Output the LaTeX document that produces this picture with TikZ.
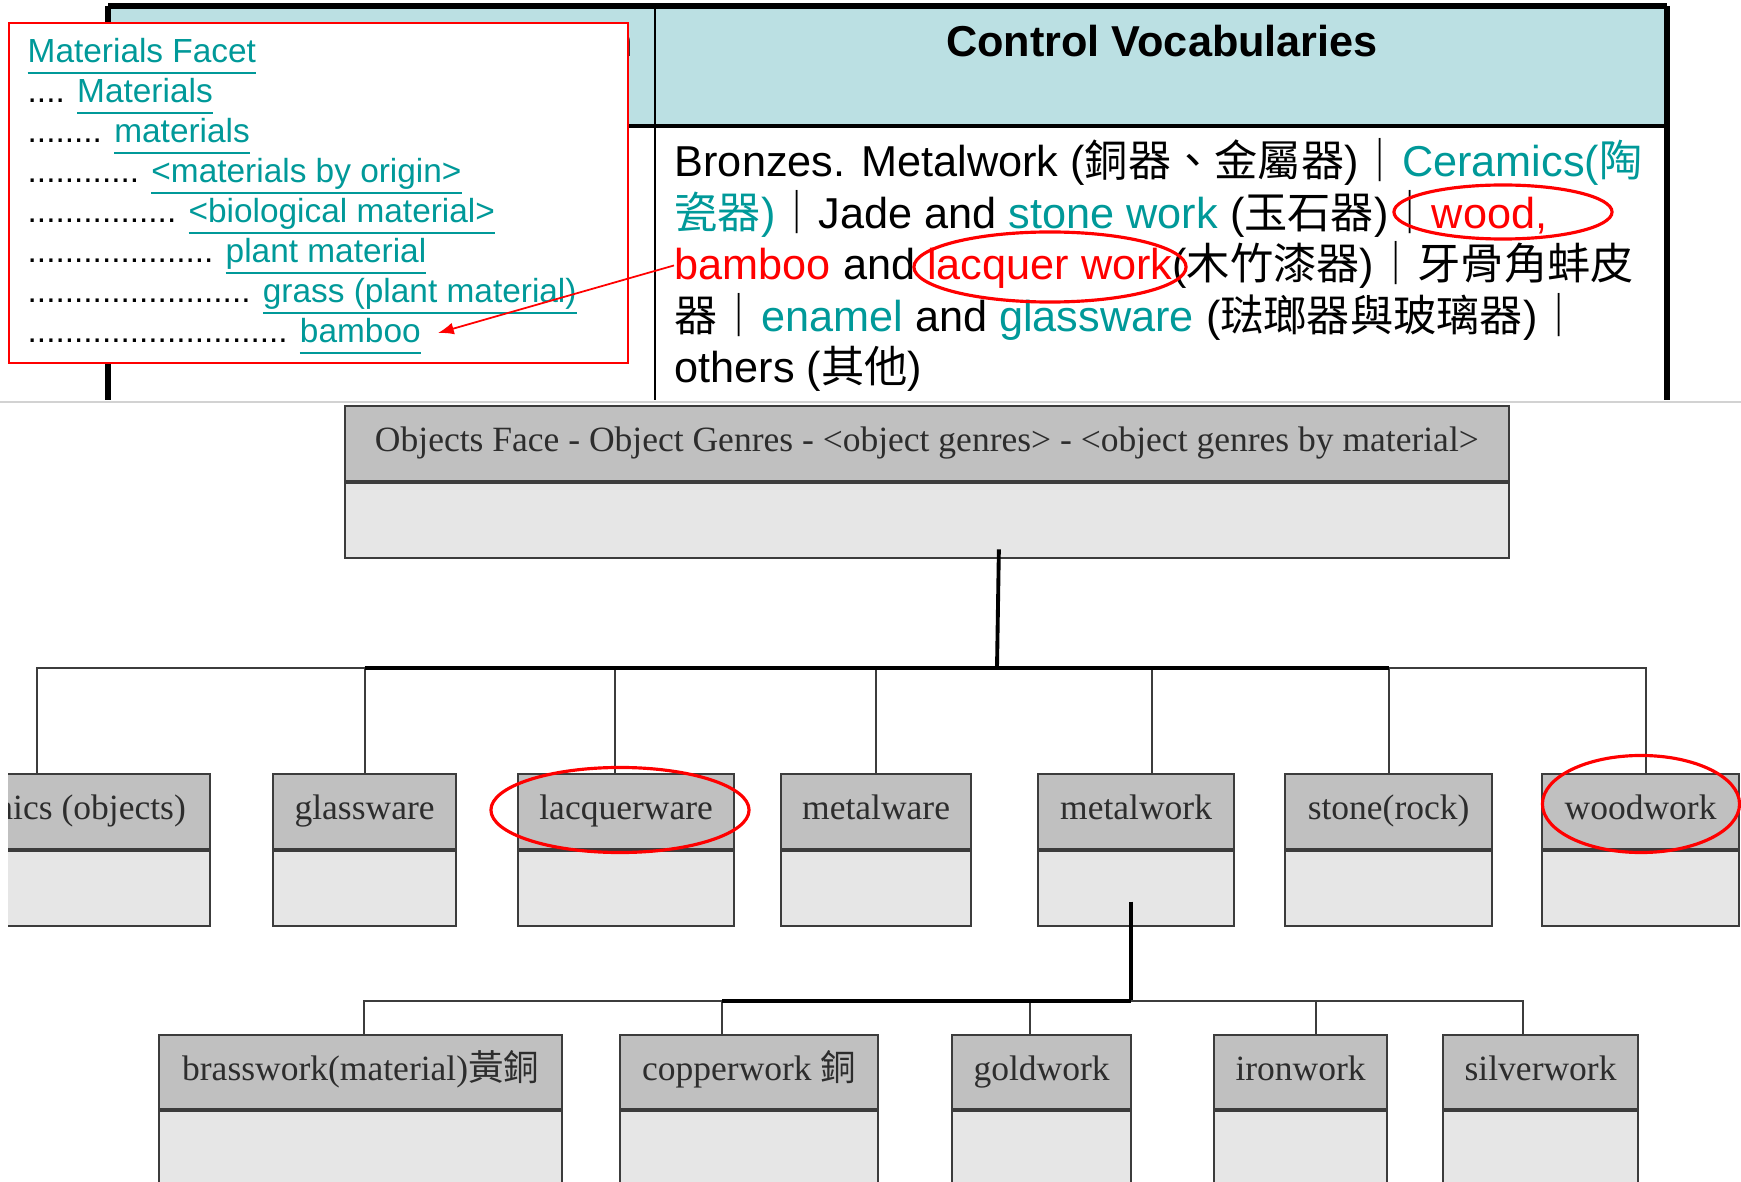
\documentclass[tikz,border=0pt]{standalone}
\usepackage{fontspec}
\setmainfont{Liberation Sans}
\newfontfamily\tnr{Liberation Serif}
\newfontfamily\cjk{Noto Sans CJK TC}
\usetikzlibrary{arrows.meta,shapes.geometric,positioning,calc}
\definecolor{linkteal}{RGB}{0,153,153}
\definecolor{headcyan}{RGB}{187,224,227}
\definecolor{boxgray}{RGB}{192,192,192}
\definecolor{bodygray}{RGB}{230,230,230}
\definecolor{edgegray}{RGB}{60,60,60}
\definecolor{inkgray}{RGB}{45,45,45}
\newcommand{\zh}[1]{{\cjk #1}}
\newcommand{\vsep}{\zh{｜}}
\newcommand{\tealtxt}[1]{\textcolor{linkteal}{#1}}
\newcommand{\redtxt}[1]{\textcolor{red}{#1}}
\newcommand{\lnk}[1]{\textcolor{linkteal}{\underline{\raisebox{0pt}[\height][1.4pt]{#1}}}}
\newcommand{\genre}[5]{%
\node[genhead,minimum width=#4,anchor=north west] (#1) at (#2,#3) {#5};
\node[genbody,minimum width=#4,anchor=north] (#1b) at (#1.south) {};
\draw[edgegray,line width=1.2pt] (#1.south west) -- (#1.south east);}

\begin{document}
\begin{tikzpicture}
[x=0.01cm,y=-0.01cm,
tabline/.style={black,line width=1.5pt},
tabtxt/.style={anchor=base west,inner sep=0pt,font=\fontsize{12.3}{14}\selectfont},
listtxt/.style={anchor=base west,inner sep=0pt,font=\fontsize{9.5}{11}\selectfont},
ring/.style={draw=red,line width=0.9pt,ellipse,inner sep=0pt},
redarrow/.style={red,line width=0.5pt,-{Latex[length=4.5pt,width=3.4pt]}},
genhead/.style={draw=edgegray,fill=boxgray,line width=0.6pt,minimum height=0.75cm,inner sep=0pt,text height=6.9pt,text depth=2.2pt,text=inkgray,font=\tnr\fontsize{10.1}{12}\selectfont},
genbody/.style={draw=edgegray,fill=bodygray,line width=0.6pt,minimum height=0.75cm,inner sep=0pt},
bus/.style={edgegray,line width=0.6pt},
trunk/.style={black,line width=1.1pt}]
\useasboundingbox (0,0) rectangle (1741,1182);
\clip (0,0) rectangle (1741,1182);
%%
%%%%%%%%%%%%%%%%%%
% Table
%%%%%%%%%%%%%%%%%%
\fill[headcyan] (108,6) rectangle (1667,126);
\draw[tabline] (108,6) -- (1667,6);
\draw[tabline] (108,6) -- (108,400);
\draw[black,line width=1.7pt] (1667,6) -- (1667,400);
\draw[black,line width=0.9pt] (108,126) -- (1667,126);
\draw[black,line width=0.8pt] (655,6) -- (655,400);
\draw[gray!35,line width=0.6pt] (0,402) -- (1741,402);
\node[anchor=base east,inner sep=0pt,font=\bfseries\fontsize{12.3}{14}\selectfont] (lefthead) at (634,57) {n};
\node[anchor=base,inner sep=0pt,font=\bfseries\fontsize{12.3}{14}\selectfont] (cvhead) at (1162,57) {Control Vocabularies};
%% body text
\node[tabtxt] (tbody1) at (674,177) {Bronzes. Metalwork (\zh{銅器、金屬器})\vsep\tealtxt{Ceramics(\zh{陶}}};
\node[tabtxt] (tbody2) at (674,229) {\tealtxt{\zh{瓷器})}\vsep Jade and \tealtxt{stone work} (\zh{玉石器})\vsep\redtxt{wood,}};
\node[tabtxt] (tbody3) at (674,280) {\redtxt{bamboo} and \redtxt{lacquer work}(\zh{木竹漆器})\vsep\zh{牙骨角蚌皮}};
\node[tabtxt] (tbody4) at (674,332) {\zh{器}\vsep\tealtxt{enamel} and \tealtxt{glassware} (\zh{琺瑯器與玻璃器})\vsep};
\node[tabtxt] (tbody5) at (674,383) {others (\zh{其他})};
\node[ring,minimum width=2.18cm,minimum height=0.54cm] (ringwoodtxt) at (1503,212) {};
\node[ring,minimum width=2.72cm,minimum height=0.70cm] (ringlacqtxt) at (1050,267) {};
%%
%%%%%%%%%%%%%%%%%%
% Materials facet list
%%%%%%%%%%%%%%%%%%
\node[draw=red,fill=white,line width=0.6pt,minimum width=6.19cm,minimum height=3.40cm,anchor=north west,inner sep=0pt] (listbox) at (8,22) {};
\node[listtxt] (lfacet) at (27,63) {\lnk{Materials Facet}};
\node[listtxt] (lmat) at (27,103) {.... \lnk{Materials}};
\node[listtxt] (lmats) at (27,143) {........ \lnk{materials}};
\node[listtxt] (lorigin) at (27,183) {............ \lnk{<materials by origin>}};
\node[listtxt] (lbio) at (27,223) {................ \lnk{<biological material>}};
\node[listtxt] (lplant) at (27,263) {.................... \lnk{plant material}};
\node[listtxt] (lgrass) at (27,303) {........................ \lnk{grass (plant material)}};
\node[listtxt] (lbamboo) at (27,343) {............................ \lnk{bamboo}};
\coordinate (bambootip) at (438,333);
\draw[redarrow] (tbody3.west) -- (bambootip);
%%
%%%%%%%%%%%%%%%%%%
% Object genres
%%%%%%%%%%%%%%%%%%
\genre{obj}{344}{405}{11.63cm}{Objects Face - Object Genres - <object genres> - <object genres by material>}
%% first level
\genre{cera}{-99}{773}{3.08cm}{ceramics (objects)}
\genre{glass}{272}{773}{1.83cm}{glassware}
\genre{lacq}{517}{773}{2.16cm}{lacquerware}
\genre{mware}{780}{773}{1.90cm}{metalware}
\genre{mwork}{1037}{773}{1.96cm}{metalwork}
\genre{stone}{1284}{773}{2.07cm}{stone(rock)}
\genre{wood}{1541}{773}{1.97cm}{woodwork}
\fill[white] (0,760) rectangle (8,940);
\coordinate (hub1) at (997,668);
\draw[trunk] ($(objb.south)+(72,-10)$) -- (hub1);
\foreach \g/\dx in {cera/-19,glass/0,lacq/-11,mware/0,mwork/16,stone/0,wood/5}
  \draw[bus] (hub1) -| ($(\g.north)+(\dx,0)$);
\draw[trunk] (hub1 -| glass.north) -- (hub1 -| stone.north);
%% second level
\begin{scope}[genhead/.append style={minimum height=0.74cm},genbody/.append style={minimum height=1cm}]
\genre{brass}{158}{1034}{4.03cm}{brasswork(material)\zh{黃銅}}
\genre{copper}{619}{1034}{2.58cm}{copperwork \zh{銅}}
\genre{gold}{951}{1034}{1.79cm}{goldwork}
\genre{iron}{1213}{1034}{1.73cm}{ironwork}
\genre{silver}{1442}{1034}{1.95cm}{silverwork}
\end{scope}
\coordinate (hub2) at ($(mworkb.center)+(-5,112)$);
\draw[trunk] ($(mworkb.center)+(-5,13)$) -- (hub2);
\foreach \g/\dx in {brass/3,copper/-27,gold/-12,iron/15,silver/-18}
  \draw[bus] (hub2) -| ($(\g.north)+(\dx,0)$);
\draw[trunk] (hub2) -- ($(copper.north |- hub2)+(-27,0)$);
%%
\node[ring,minimum width=2.58cm,minimum height=0.85cm] (ringlacq) at (620,810) {};
\node[ring,minimum width=1.97cm,minimum height=0.97cm] (ringwood) at (1641,804) {};
%%
\end{tikzpicture}
\end{document}
